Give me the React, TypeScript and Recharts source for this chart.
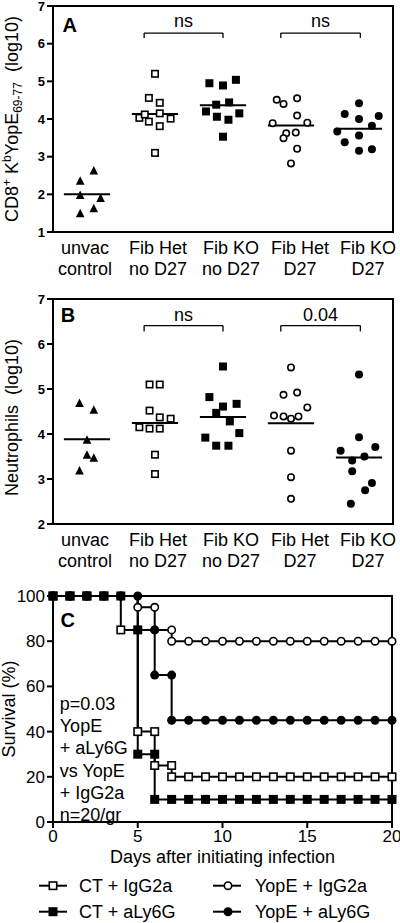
import React from 'react';
import {
  ScatterChart,
  Scatter,
  LineChart,
  Line,
  XAxis,
  YAxis,
  ReferenceLine,
  ReferenceArea,
  ReferenceDot,
} from 'recharts';

const FONT = '"Liberation Sans", Arial, Helvetica, sans-serif';

const groupLabels = [
  ['unvac', 'control'],
  ['Fib Het', 'no D27'],
  ['Fib KO', 'no D27'],
  ['Fib Het', 'D27'],
  ['Fib KO', 'D27'],
];
// label nudges so the text sits where it does in the figure
const groupLabelShift = [-2, 3, 8, 9, 9];

// panel A, CD8+ KbYopE69-77 (log10): [horizontal jitter, value]
const cd8Unvac: [number, number][] = [[0.1, 2.63], [-0.1, 2.36], [-0.1, 1.98], [0.2, 1.9], [0.1, 1.63], [-0.1, 1.5]];
const cd8HetNoD27: [number, number][] = [[0, 5.2], [-0.09, 4.56], [0.07, 4.43], [-0.23, 4.03], [-0.15, 4.12], [-0.09, 3.93], [0.07, 4.15], [0.23, 4.01], [0.07, 3.81], [0, 3.1]];
const cd8KoNoD27: [number, number][] = [[-0.2, 4.95], [0, 4.89], [0.19, 5.04], [-0.25, 4.2], [-0.1, 4.38], [0.09, 4.44], [0.24, 4.15], [-0.09, 4.06], [0.08, 3.98], [0, 3.53]];
const cd8HetD27: [number, number][] = [[-0.21, 4.51], [-0.11, 4.4], [0.09, 4.55], [0.09, 4.09], [-0.27, 3.89], [0.24, 3.9], [-0.07, 3.62], [0.07, 3.64], [-0.11, 3.49], [0.09, 3.21], [0, 2.82]];
const cd8KoD27: [number, number][] = [[0, 4.42], [-0.21, 4.13], [0, 4.0], [0.29, 4.08], [0.19, 3.82], [-0.32, 3.67], [0, 3.56], [-0.21, 3.38], [0, 3.16], [0.19, 3.2]];

// panel B, neutrophils (log10)
const neuUnvac: [number, number][] = [[-0.11, 4.69], [0.1, 4.54], [0, 3.87], [0, 3.54], [0.1, 3.47], [-0.11, 3.19]];
const neuHetNoD27: [number, number][] = [[-0.08, 5.1], [0.07, 5.1], [-0.08, 4.52], [0.07, 4.37], [0.23, 4.34], [-0.23, 4.15], [-0.08, 4.12], [0.07, 4.12], [0, 3.54], [0, 3.11]];
const neuKoNoD27: [number, number][] = [[0, 5.5], [-0.2, 4.82], [0, 4.61], [0.2, 4.67], [-0.1, 4.47], [0.1, 4.28], [-0.26, 3.92], [0.24, 4.02], [-0.1, 3.74], [0.08, 3.74]];
const neuHetD27: [number, number][] = [[0, 5.48], [-0.11, 4.87], [0.09, 4.92], [-0.25, 4.41], [-0.11, 4.39], [0, 4.34], [0.11, 4.39], [0.24, 4.59], [0, 3.63], [0, 3.04], [0, 2.56]];
const neuKoD27: [number, number][] = [[0, 5.32], [0, 3.93], [-0.27, 3.63], [0.24, 3.71], [-0.1, 3.41], [0.08, 3.5], [-0.1, 3.17], [0.19, 2.91], [0.09, 2.75], [-0.12, 2.45]];

// panel C, survival (%): [day, percent]
const ctIgG2a: [number, number][] = [[0, 100], [1, 100], [2, 100], [3, 100], [4, 85], [5, 40], [6, 40], [6, 25], [7, 25], [7, 20], [8, 20], [9, 20], [10, 20], [11, 20], [12, 20], [13, 20], [14, 20], [15, 20], [16, 20], [17, 20], [18, 20], [19, 20], [20, 20]];
const yopeIgG2a: [number, number][] = [[0, 100], [1, 100], [2, 100], [3, 100], [4, 100], [5, 95], [6, 95], [6, 85], [7, 85], [7, 80], [8, 80], [9, 80], [10, 80], [11, 80], [12, 80], [13, 80], [14, 80], [15, 80], [16, 80], [17, 80], [18, 80], [19, 80], [20, 80]];
const yopeALy6G: [number, number][] = [[0, 100], [1, 100], [2, 100], [3, 100], [4, 100], [5, 100], [5, 85], [6, 85], [6, 65], [7, 65], [7, 45], [8, 45], [9, 45], [10, 45], [11, 45], [12, 45], [13, 45], [14, 45], [15, 45], [16, 45], [17, 45], [18, 45], [19, 45], [20, 45]];
const ctALy6G: [number, number][] = [[0, 100], [1, 100], [2, 100], [3, 100], [4, 100], [5, 85], [5, 30], [6, 30], [6, 10], [7, 10], [8, 10], [9, 10], [10, 10], [11, 10], [12, 10], [13, 10], [14, 10], [15, 10], [16, 10], [17, 10], [18, 10], [19, 10], [20, 10]];

const annotation = ['p=0.03', 'YopE', '+ aLy6G', 'vs YopE', '+ IgG2a', 'n=20/gr'];

type Kind = 'triangle' | 'openSquare' | 'square' | 'openCircle' | 'circle';

const groupKinds: Kind[] = ['triangle', 'openSquare', 'square', 'openCircle', 'circle'];

function Mark({ cx, cy, kind, s }: { cx: number; cy: number; kind: Kind; s: number }) {
  const h = s / 2;
  if (cx == null || cy == null) return null;
  switch (kind) {
    case 'triangle':
      return <polygon points={`${cx},${cy - h - 0.5} ${cx + h + 0.3},${cy + h} ${cx - h - 0.3},${cy + h}`} fill="#000" />;
    case 'openSquare':
      return <rect x={cx - h + 0.8} y={cy - h + 0.8} width={s - 1.6} height={s - 1.6} fill="#fff" stroke="#000" strokeWidth={1.6} />;
    case 'square':
      return <rect x={cx - h} y={cy - h} width={s} height={s} fill="#000" />;
    case 'openCircle':
      return <circle cx={cx} cy={cy} r={h - 0.8} fill="#fff" stroke="#000" strokeWidth={1.6} />;
    default:
      return <circle cx={cx} cy={cy} r={h} fill="#000" />;
  }
}

const mean = (vals: number[]) => vals.reduce((a, b) => a + b, 0) / vals.length;

function GroupTick(props: any) {
  const { x, y, payload } = props;
  const lines = groupLabels[payload.value - 1] || ['', ''];
  const tx = x + (groupLabelShift[payload.value - 1] || 0);
  return (
    <text x={tx} y={y} textAnchor="middle" fill="#000" fontSize={18} fontFamily={FONT}>
      <tspan x={tx} dy={21.5}>{lines[0]}</tspan>
      <tspan x={tx} dy={21.5}>{lines[1]}</tspan>
    </text>
  );
}

function Cd8Label(props: any) {
  const vb = props.viewBox || { x: 0, y: 0, width: 53, height: 226 };
  const cx = vb.x + 18;
  const cy = vb.y + vb.height / 2;
  return (
    <text x={cx} y={cy} transform={`rotate(-90, ${cx}, ${cy})`} textAnchor="middle" fontSize={18} fontFamily={FONT} fill="#000">
      CD8<tspan fontSize={12} dy={-7}>+</tspan>
      <tspan dy={7}> K</tspan>
      <tspan fontSize={12} dy={-7}>b</tspan>
      <tspan dy={7}>YopE</tspan>
      <tspan fontSize={12} dy={4}>69-77</tspan>
      <tspan dy={-4}>{'\u00a0\u00a0(log10)'}</tspan>
    </text>
  );
}

function NeutroLabel(props: any) {
  const vb = props.viewBox || { x: 0, y: 0, width: 53, height: 225 };
  const cx = vb.x + 18;
  const cy = vb.y + vb.height / 2 + 6;
  return (
    <text x={cx} y={cy} transform={`rotate(-90, ${cx}, ${cy})`} textAnchor="middle" fontSize={18} fontFamily={FONT} fill="#000">
      {'Neutrophils\u00a0\u00a0(log10)'}
    </text>
  );
}

function TextAt({ cx, cy, text, size = 18, bold = false, anchor = 'middle' }: any) {
  return (
    <text x={cx} y={cy} textAnchor={anchor} dominantBaseline="central" fontSize={size} fontWeight={bold ? 'bold' : 'normal'} fontFamily={FONT} fill="#000">
      {text}
    </text>
  );
}

interface Bracket {
  from: number;
  to: number;
  top: number;
  drop: number;
  text: string;
  textY: number;
}

interface PanelProps {
  groups: [number, number][][];
  yMin: number;
  yTicks: number[];
  brackets: Bracket[];
  letter: string;
  letterAt: [number, number];
  yLabel: React.ReactElement;
  marginTop: number;
  xAxisHeight: number;
}

function DotPanel({ groups, yMin, yTicks, brackets, letter, letterAt, yLabel, marginTop, xAxisHeight }: PanelProps) {
  const axisStroke = { stroke: '#000', strokeWidth: 2 };
  return (
    <ScatterChart width={400} height={290} margin={{ top: marginTop, right: 7, bottom: 0, left: 0 }}>
      <XAxis
        type="number"
        dataKey="x"
        domain={[0.5, 5.5]}
        ticks={[1, 2, 3, 4, 5]}
        interval={0}
        height={xAxisHeight}
        axisLine={axisStroke}
        tickLine={false}
        tickSize={0}
        tickMargin={0}
        tick={<GroupTick />}
      />
      <YAxis
        type="number"
        dataKey="y"
        domain={[yMin, 7]}
        ticks={yTicks}
        interval={0}
        width={53}
        axisLine={axisStroke}
        tickLine={axisStroke}
        tickSize={6}
        tickMargin={2}
        tick={{ fill: '#000', fontSize: 13, fontWeight: 'bold', fontFamily: FONT }}
        label={yLabel}
      />
      <ReferenceArea x1={0.5} x2={5.5} y1={yMin} y2={7} fill="none" stroke="#000" strokeWidth={2} />
      {groups.map((g, i) => (
        <Scatter
          key={i}
          data={g.map(([j, v]) => ({ x: i + 1 + j, y: v }))}
          shape={(p: any) => <Mark cx={p.cx} cy={p.cy} kind={groupKinds[i]} s={8} />}
          isAnimationActive={false}
        />
      ))}
      {groups.map((g, i) => {
        const m = mean(g.map((d) => d[1]));
        return (
          <ReferenceLine
            key={`m${i}`}
            segment={[{ x: i + 1 - 0.34, y: m }, { x: i + 1 + 0.34, y: m }]}
            stroke="#000"
            strokeWidth={2}
          />
        );
      })}
      {brackets.map((b, i) => [
        <ReferenceLine key={`bt${i}`} segment={[{ x: b.from, y: b.top }, { x: b.to, y: b.top }]} stroke="#000" strokeWidth={1.3} />,
        <ReferenceLine key={`bl${i}`} segment={[{ x: b.from, y: b.top }, { x: b.from, y: b.drop }]} stroke="#000" strokeWidth={1.3} />,
        <ReferenceLine key={`br${i}`} segment={[{ x: b.to, y: b.top }, { x: b.to, y: b.drop }]} stroke="#000" strokeWidth={1.3} />,
        <ReferenceDot
          key={`bx${i}`}
          x={(b.from + b.to) / 2}
          y={b.textY}
          r={0}
          shape={(p: any) => <TextAt cx={p.cx} cy={p.cy} text={b.text} />}
        />,
      ])}
      <ReferenceDot
        x={letterAt[0]}
        y={letterAt[1]}
        r={0}
        shape={(p: any) => <TextAt cx={p.cx} cy={p.cy} text={letter} size={20} bold />}
      />
    </ScatterChart>
  );
}

const survivalSeries: { name: string; data: [number, number][]; kind: Kind }[] = [
  { name: 'CT + IgG2a', data: ctIgG2a, kind: 'openSquare' },
  { name: 'YopE + IgG2a', data: yopeIgG2a, kind: 'openCircle' },
  { name: 'YopE + aLy6G', data: yopeALy6G, kind: 'circle' },
  { name: 'CT + aLy6G', data: ctALy6G, kind: 'square' },
];

const legendOrder = ['CT + IgG2a', 'YopE + IgG2a', 'CT + aLy6G', 'YopE + aLy6G'];

function SurvivalPanel() {
  const axisStroke = { stroke: '#000', strokeWidth: 2 };
  return (
    <LineChart width={400} height={290} margin={{ top: 16, right: 8, bottom: 0, left: 0 }}>
      <XAxis
        type="number"
        dataKey="d"
        domain={[0, 20]}
        ticks={[0, 5, 10, 15, 20]}
        interval={0}
        height={48}
        axisLine={axisStroke}
        tickLine={axisStroke}
        tickSize={6}
        tickMargin={2}
        tick={{ fill: '#000', fontSize: 17, fontFamily: FONT }}
        label={{ value: 'Days after initiating infection', position: 'insideBottom', offset: 7, fill: '#000', fontSize: 18, fontFamily: FONT }}
      />
      <YAxis
        type="number"
        dataKey="v"
        domain={[0, 100]}
        ticks={[0, 20, 40, 60, 80, 100]}
        interval={0}
        width={53}
        axisLine={axisStroke}
        tickLine={axisStroke}
        tickSize={6}
        tickMargin={2}
        tick={{ fill: '#000', fontSize: 17, fontFamily: FONT }}
        label={{ value: 'Survival (%)', angle: -90, position: 'center', dx: -18, fill: '#000', fontSize: 18, fontFamily: FONT }}
      />
      <ReferenceArea x1={0} x2={20} y1={0} y2={100} fill="none" stroke="#000" strokeWidth={2} />
      {survivalSeries.map((s) => (
        <Line
          key={s.name}
          name={s.name}
          data={s.data.map(([d, v]) => ({ d, v }))}
          dataKey="v"
          type="stepAfter"
          stroke="#000"
          strokeWidth={2}
          dot={(p: any) => <Mark key={`${s.name}-${p.index}`} cx={p.cx} cy={p.cy} kind={s.kind} s={9} />}
          activeDot={false}
          isAnimationActive={false}
        />
      ))}
      <ReferenceDot x={0.87} y={89.4} r={0} shape={(p: any) => <TextAt cx={p.cx} cy={p.cy} text="C" size={20} bold />} />
      <ReferenceDot
        x={0.4}
        y={54.9}
        r={0}
        shape={(p: any) => (
          <text x={p.cx} y={p.cy + 12} fontSize={18} fontFamily={FONT} fill="#000">
            {annotation.map((line, i) => (
              <tspan key={i} x={p.cx} dy={i === 0 ? 0 : 22.2}>{line}</tspan>
            ))}
          </text>
        )}
      />
    </LineChart>
  );
}

function SurvivalLegend() {
  const cols = [{ x1: 39, x2: 67, mx: 53, tx: 79 }, { x1: 213, x2: 241, mx: 228, tx: 255 }];
  const rows = [15.7, 41.7];
  return (
    <svg width={400} height={53} style={{ position: 'absolute', top: 870, left: 0 }}>
      {legendOrder.map((name, i) => {
        const s = survivalSeries.find((d) => d.name === name)!;
        const c = cols[i % 2];
        const y = rows[Math.floor(i / 2)];
        return (
          <g key={name}>
            <line x1={c.x1} x2={c.x2} y1={y} y2={y} stroke="#000" strokeWidth={2} />
            <Mark cx={c.mx} cy={y} kind={s.kind} s={9} />
            <text x={c.tx} y={y} dominantBaseline="central" fontSize={18} fontFamily={FONT} fill="#000">{name}</text>
          </g>
        );
      })}
    </svg>
  );
}

export default function App() {
  return (
    <div style={{ position: 'absolute', top: 0, left: 0, width: 400, height: 923, background: '#fff', overflow: 'hidden' }}>
      <div style={{ position: 'absolute', top: 0, left: 0 }}>
        <DotPanel
          groups={[cd8Unvac, cd8HetNoD27, cd8KoNoD27, cd8HetD27, cd8KoD27]}
          yMin={1}
          yTicks={[1, 2, 3, 4, 5, 6, 7]}
          brackets={[
            { from: 1.84, to: 3.0, top: 6.28, drop: 6.15, text: 'ns', textY: 6.59 },
            { from: 3.85, to: 5.02, top: 6.28, drop: 6.15, text: 'ns', textY: 6.59 },
          ]}
          letter="A"
          letterAt={[0.746, 6.5]}
          yLabel={<Cd8Label />}
          marginTop={6}
          xAxisHeight={58}
        />
      </div>
      <div style={{ position: 'absolute', top: 290, left: 0 }}>
        <DotPanel
          groups={[neuUnvac, neuHetNoD27, neuKoNoD27, neuHetD27, neuKoD27]}
          yMin={2}
          yTicks={[2, 3, 4, 5, 6, 7]}
          brackets={[
            { from: 1.84, to: 3.0, top: 6.41, drop: 6.28, text: 'ns', textY: 6.65 },
            { from: 3.85, to: 5.02, top: 6.41, drop: 6.28, text: '0.04', textY: 6.65 },
          ]}
          letter="B"
          letterAt={[0.72, 6.65]}
          yLabel={<NeutroLabel />}
          marginTop={9}
          xAxisHeight={56}
        />
      </div>
      <div style={{ position: 'absolute', top: 580, left: 0 }}>
        <SurvivalPanel />
      </div>
      <SurvivalLegend />
    </div>
  );
}
